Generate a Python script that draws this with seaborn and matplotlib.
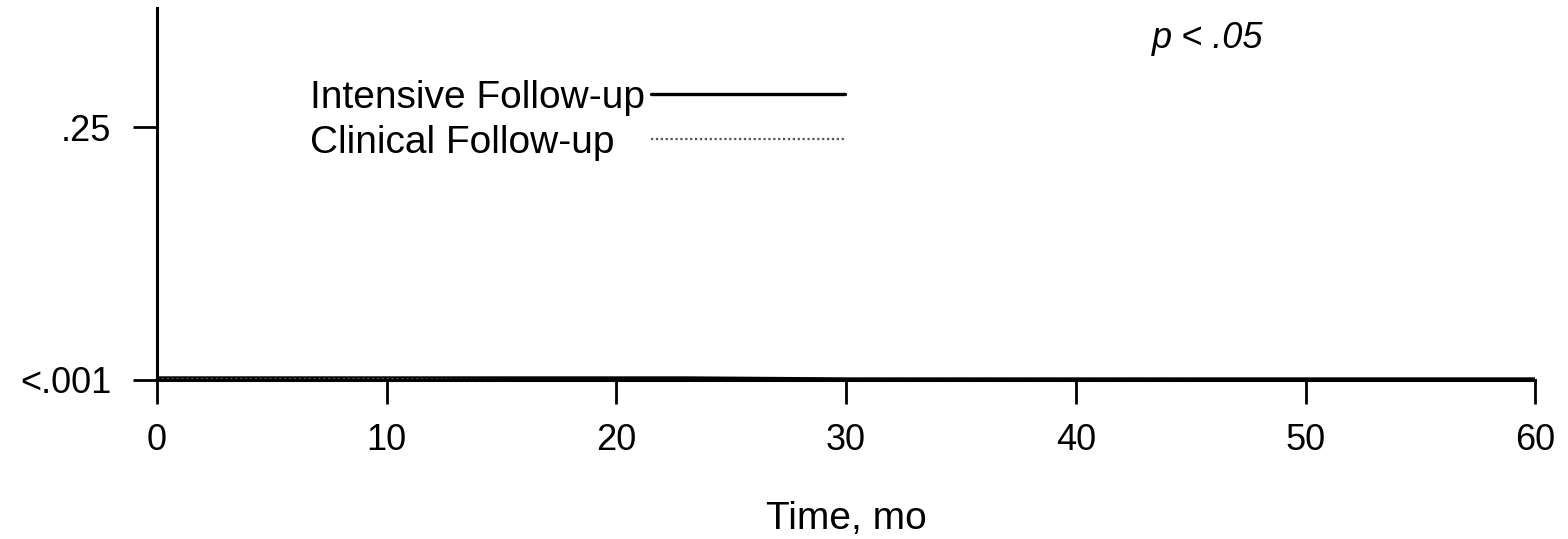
import matplotlib
matplotlib.use("Agg")
import matplotlib.pyplot as plt
import pandas as pd
import seaborn as sns

# values: both curves hug the floor of the axis
months = [0, 5, 10, 15, 20, 23, 30, 35, 40, 45, 50, 55, 60]
intensive = [0.002, 0.002, 0.002, 0.002, 0.002, 0.002, 0.001, 0.001, 0.001, 0.001, 0.001, 0.001, 0.001]
clinical = [0.001, 0.001, 0.001, 0.0, -0.001, -0.001, 0.0, 0.0, 0.0, 0.0, -0.001, -0.001, 0.0]
group_names = ["Intensive Follow-up", "Clinical Follow-up"]
x_ticks = [0, 10, 20, 30, 40, 50, 60]
y_ticks = [0, 0.25]
y_ticklabels = ["<.001", ".25"]

df = pd.DataFrame({
    "month": months * 2,
    "value": intensive + clinical,
    "group": [group_names[0]] * len(months) + [group_names[1]] * len(months),
})

sns.set_style("ticks")
plt.rcParams["font.family"] = ["Liberation Sans", "DejaVu Sans"]
plt.rcParams["text.color"] = "black"
plt.rcParams["axes.labelcolor"] = "black"
plt.rcParams["xtick.color"] = "black"
plt.rcParams["ytick.color"] = "black"

fig = plt.figure(figsize=(15.68, 5.39), dpi=100)
ax = fig.add_axes([0.1001, 0.295, 0.879, 0.69])

sns.lineplot(data=df, x="month", y="value", hue="group", style="group",
             palette={group_names[0]: "black", group_names[1]: "#555555"},
             dashes={group_names[0]: "", group_names[1]: (1, 1.2)},
             linewidth=2.0, ax=ax, legend=False)
# make the solid line a bit heavier like the scan
ax.lines[0].set_linewidth(2.4)
ax.lines[1].set_linewidth(1.6)

ax.set_xlim(0, 60)
ax.set_ylim(0, 0.3676)
ax.set_xticks(x_ticks)
ax.set_yticks(y_ticks)
ax.set_yticklabels(y_ticklabels)
ax.tick_params(axis="both", direction="out", length=17, width=2.0, labelsize=26,
               color="black", labelcolor="black")
ax.tick_params(axis="x", pad=14)
ax.tick_params(axis="y", pad=16)
for s in ["top", "right"]:
    ax.spines[s].set_visible(False)
for s in ["left", "bottom"]:
    ax.spines[s].set_linewidth(2.2)
    ax.spines[s].set_color("black")

ax.set_xlabel("Time, mo", fontsize=28, labelpad=31)
ax.set_ylabel("")

ax.text(43.3, 0.338, "p < .05", fontsize=26, style="italic", va="center", ha="left")

handles = [ax.lines[0], ax.lines[1]]
leg = fig.legend(handles, group_names, loc="upper left",
                 bbox_to_anchor=(310 / 1568, 1 - 80 / 539), bbox_transform=fig.transFigure,
                 frameon=False, fontsize=28, markerfirst=False, handlelength=5.0,
                 handletextpad=0.15, labelspacing=0.22, borderpad=0, borderaxespad=0)

# left-align the label texts while keeping the sample lines in one column
fig.canvas.draw()
renderer = fig.canvas.get_renderer()
widths = [t.get_window_extent(renderer).width for t in leg.get_texts()]
rows = leg._legend_handle_box.get_children()[0].get_children()
base_sep = 0.15 * 28
for row, w in zip(rows, widths):
    row.sep = base_sep + (max(widths) - w) * 72 / fig.dpi
leg._legend_handle_box.get_children()[0].align = "left"

fig.savefig("out.png", dpi=100)
